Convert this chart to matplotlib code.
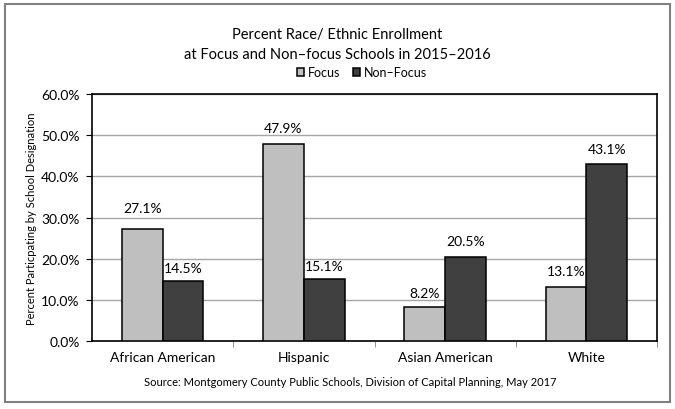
import matplotlib
matplotlib.use("Agg")
import matplotlib.pyplot as plt
import numpy as np
from matplotlib.patches import Rectangle

plt.rcParams["font.family"] = ["Lato", "DejaVu Sans"]

categories = ["African American", "Hispanic", "Asian American", "White"]
focus = [27.1, 47.9, 8.2, 13.1]
non_focus = [14.5, 15.1, 20.5, 43.1]
series_names = ["Focus", "Non\u2013Focus"]
yticks = [0, 10, 20, 30, 40, 50, 60]

# gap (points) between bar top and its label, as placed in the original
focus_pad = [11, 7, 6, 7]
non_focus_pad = [5, 5, 7, 6]

fig = plt.figure(figsize=(6.75, 4.1), dpi=100)
ax = fig.add_axes([92 / 675, 1 - 342 / 410, 565 / 675, 247 / 410])

x = np.arange(len(categories))
w = 0.288
b1 = ax.bar(x - w / 2, focus, w, color="#bfbfbf", edgecolor="black", linewidth=1.1,
            label=series_names[0], zorder=3)
b2 = ax.bar(x + w / 2, non_focus, w, color="#404040", edgecolor="black", linewidth=1.1,
            label=series_names[1], zorder=3)

for bars, vals, pads in [(b1, focus, focus_pad), (b2, non_focus, non_focus_pad)]:
    for rect, v, p in zip(bars, vals, pads):
        ax.annotate(f"{v:.1f}%", (rect.get_x() + rect.get_width() / 2, v),
                    xytext=(0, p), textcoords="offset points",
                    ha="center", va="bottom", fontsize=10)

ax.set_xlim(-0.5, len(categories) - 0.5)
ax.set_ylim(0, 60)
ax.set_yticks(yticks)
ax.set_yticklabels([f"{t:.1f}%" for t in yticks], fontsize=10)
ax.yaxis.grid(True, color="#a6a6a6", linewidth=1)
ax.set_axisbelow(True)
ax.tick_params(axis="y", length=4, width=0.8, pad=5)

ax.set_xticks(x)
ax.set_xticklabels(categories, fontsize=10)
ax.tick_params(axis="x", which="major", length=0, pad=7)
ax.set_xticks(np.arange(0.5, len(categories) - 0.5 + 0.01, 1), minor=True)
ax.tick_params(axis="x", which="minor", length=4, width=0.6, color="#808080")

for s in ax.spines.values():
    s.set_color("black")
    s.set_linewidth(1.2)

ax.set_ylabel("Percent Particpating by School Designation", fontsize=8, labelpad=3)

fig.text(0.5, 1 - 35 / 410, "Percent Race/ Ethnic Enrollment", ha="center", va="center",
         fontsize=10.5)
fig.text(0.5, 1 - 55 / 410, "at Focus and Non\u2013focus Schools in 2015\u20132016",
         ha="center", va="center", fontsize=10.5)

fig.legend(handles=[b1, b2], loc="center", bbox_to_anchor=(362 / 675, 1 - 73 / 410),
           ncol=2, frameon=False, fontsize=9, handlelength=0.6, handleheight=0.6,
           handletextpad=0.3, columnspacing=1.0)

fig.text(350 / 675, 1 - 383 / 410,
         "Source: Montgomery County Public Schools, Division of Capital Planning, May 2017",
         ha="center", va="center", fontsize=8)

fig.patches.append(Rectangle((5 / 675, 1 - 403 / 410), 665 / 675, 398 / 410,
                             transform=fig.transFigure, fill=False,
                             edgecolor="#808080", linewidth=1.5))

fig.savefig("out.png", dpi=100)
